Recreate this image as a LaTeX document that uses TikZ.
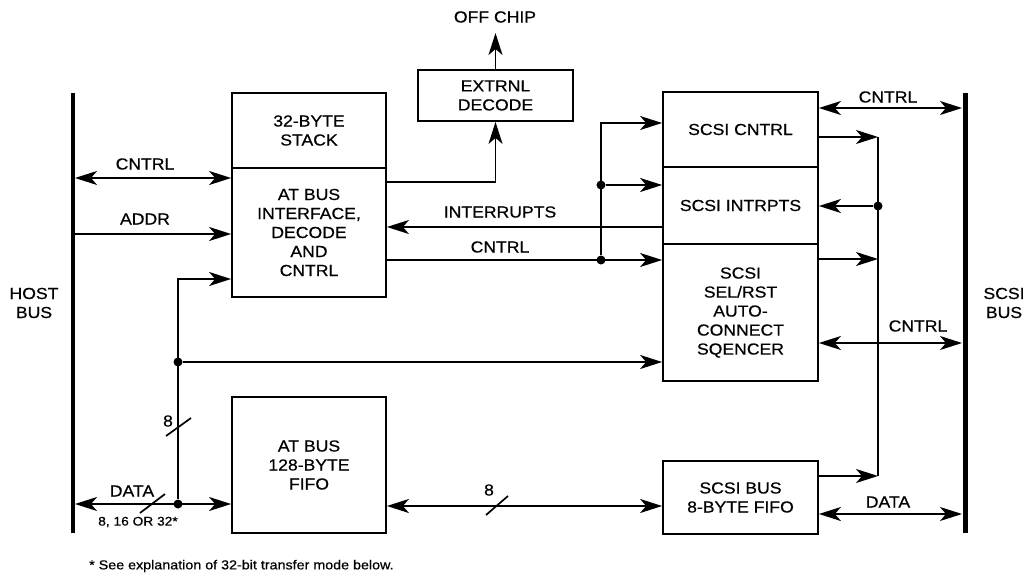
\documentclass[tikz,border=0pt]{standalone}
\usepackage{fontspec}
\setmainfont{Liberation Sans}[FakeStretch=1.1,FakeBold=0.6]
\usetikzlibrary{arrows.meta}
\newcommand\dgfont{\fontsize{16}{19}\selectfont}
\newcommand\dgsmall{\fontsize{12.5}{15}\selectfont}
\newcommand\dgnote{\fontsize{13}{15}\selectfont}
\begin{document}
\begin{tikzpicture}[x=1pt,y=-1pt,
  box/.style={draw, line width=1.8pt, inner sep=0pt, align=center, font=\dgfont},
  conn/.style={line width=1.7pt},
  tip/.tip={Stealth[length=22pt,width=14pt,inset=6pt]},
  arr/.style={conn, -tip},
  biarr/.style={conn, tip-tip},
  dot/.style={circle, fill, inner sep=0pt, minimum size=9pt},
  lbl/.style={font=\dgfont, inner sep=0pt, align=center},
  busline/.style={line width=#1}
]
\useasboundingbox (0,0) rectangle (1028,580);

% buses
\coordinate (hbt) at (73,93);
\coordinate (hbb) at (73,533);
\coordinate (sbt) at (965,93);
\coordinate (sbb) at (965,533);
\coordinate (hbx) at (75,0);
\coordinate (sbx) at (962,0);
\draw[busline=3.5pt] (hbt) -- (hbb);
\draw[busline=5pt] (sbt) -- (sbb);
\node[lbl] (hostlbl) at (34,303) {HOST\\BUS};
\node[lbl] (scsilbl) at (1004,303) {SCSI\\BUS};

% blocks
\node[box, minimum width=154pt, minimum height=75pt] (stack) at (309,130.5) {32-BYTE\\STACK};
\node[box, minimum width=154pt, minimum height=129pt] (atbus) at (309,232.5) {AT BUS\\INTERFACE,\\DECODE\\AND\\CNTRL};
\node[box, minimum width=155pt, minimum height=51pt] (ext) at (495.5,95.5) {EXTRNL\\DECODE};
\node[box, minimum width=155pt, minimum height=75pt] (scntrl) at (740.5,129.5) {SCSI CNTRL};
\node[box, minimum width=155pt, minimum height=77pt] (sint) at (740.5,205.5) {SCSI INTRPTS};
\node[box, minimum width=155pt, minimum height=137pt] (ssel) at (740.5,312.5) {SCSI\\SEL/RST\\AUTO-\\CONNECT\\SQENCER};
\node[box, minimum width=154pt, minimum height=136pt] (fifo) at (309,465) {AT BUS\\128-BYTE\\FIFO};
\node[box, minimum width=155pt, minimum height=73pt] (sfifo) at (740.5,497.5) {SCSI BUS\\8-BYTE FIFO};

% host side
\draw[biarr] (hbx |- 0,178) -- (atbus.west |- 0,178);
\node[lbl] (lcntrl1) at (145,164) {CNTRL};
\draw[arr] (hbx |- 0,234) -- (atbus.west |- 0,234);
\node[lbl] (laddr) at (145,219) {ADDR};
\draw[biarr] (hbx |- 0,504) -- (fifo.west |- 0,504);
\node[lbl] (ldata1) at (132,491) {DATA};
\node[lbl, font=\dgsmall] (lwidth) at (138,522) {8, 16 OR 32*};
\draw[conn] (140,513) -- (165,494);
\node[dot] (d1) at (178,504) {};
\node[dot] (d2) at (178,362) {};
\draw[arr] (d1) -- (178,279) -- (atbus.west |- 0,279);
\draw[arr] (d2) -- (ssel.west |- d2);
\draw[conn] (166,436) -- (191,418);
\node[lbl] (l8a) at (168,421) {8};

% external decode
\draw[arr] (atbus.east |- 0,182) -| (ext.south);
\coordinate (offchip) at (495.5,33);
\draw[arr] (ext.north) -- (offchip);
\node[lbl] (loff) at (495,17) {OFF CHIP};

% middle
\draw[arr] (sint.west |- 0,227) -- (atbus.east |- 0,227);
\node[lbl] (lint) at (500,212) {INTERRUPTS};
\draw[arr] (atbus.east |- 0,260) -- (ssel.west |- 0,260);
\node[lbl] (lcntrl2) at (500,247) {CNTRL};
\node[dot] (d3) at (601,260) {};
\node[dot] (d4) at (601,185) {};
\draw[arr] (d3) -- (601,123) -- (scntrl.west |- 0,123);
\draw[arr] (d4) -- (sint.west |- d4);

% fifo link
\draw[biarr] (fifo.east |- 0,506) -- (sfifo.west |- 0,506);
\draw[conn] (486,515) -- (508,496);
\node[lbl] (l8b) at (489,490) {8};

% scsi side
\draw[biarr] (scntrl.east |- 0,108) -- (sbx |- 0,108);
\node[lbl] (lcntrl3) at (888,97) {CNTRL};
\coordinate (vt) at (878,137);
\coordinate (vb) at (878,476);
\draw[conn] (vt) -- (vb);
\draw[arr] (scntrl.east |- vt) -- (vt);
\node[dot] (d5) at (878,206) {};
\draw[arr] (d5) -- (sint.east |- d5);
\coordinate (vm) at (878,259);
\draw[arr] (ssel.east |- vm) -- (vm);
\draw[arr] (sfifo.east |- vb) -- (vb);
\draw[biarr] (ssel.east |- 0,343) -- (sbx |- 0,343);
\node[lbl] (lcntrl4) at (918,326) {CNTRL};
\draw[biarr] (sfifo.east |- 0,514) -- (sbx |- 0,514);
\node[lbl] (ldata2) at (888,502) {DATA};

% footnote
\node[lbl, font=\dgnote, anchor=west] (note) at (89,566) {* See explanation of 32-bit transfer mode below.};
\end{tikzpicture}
\end{document}
